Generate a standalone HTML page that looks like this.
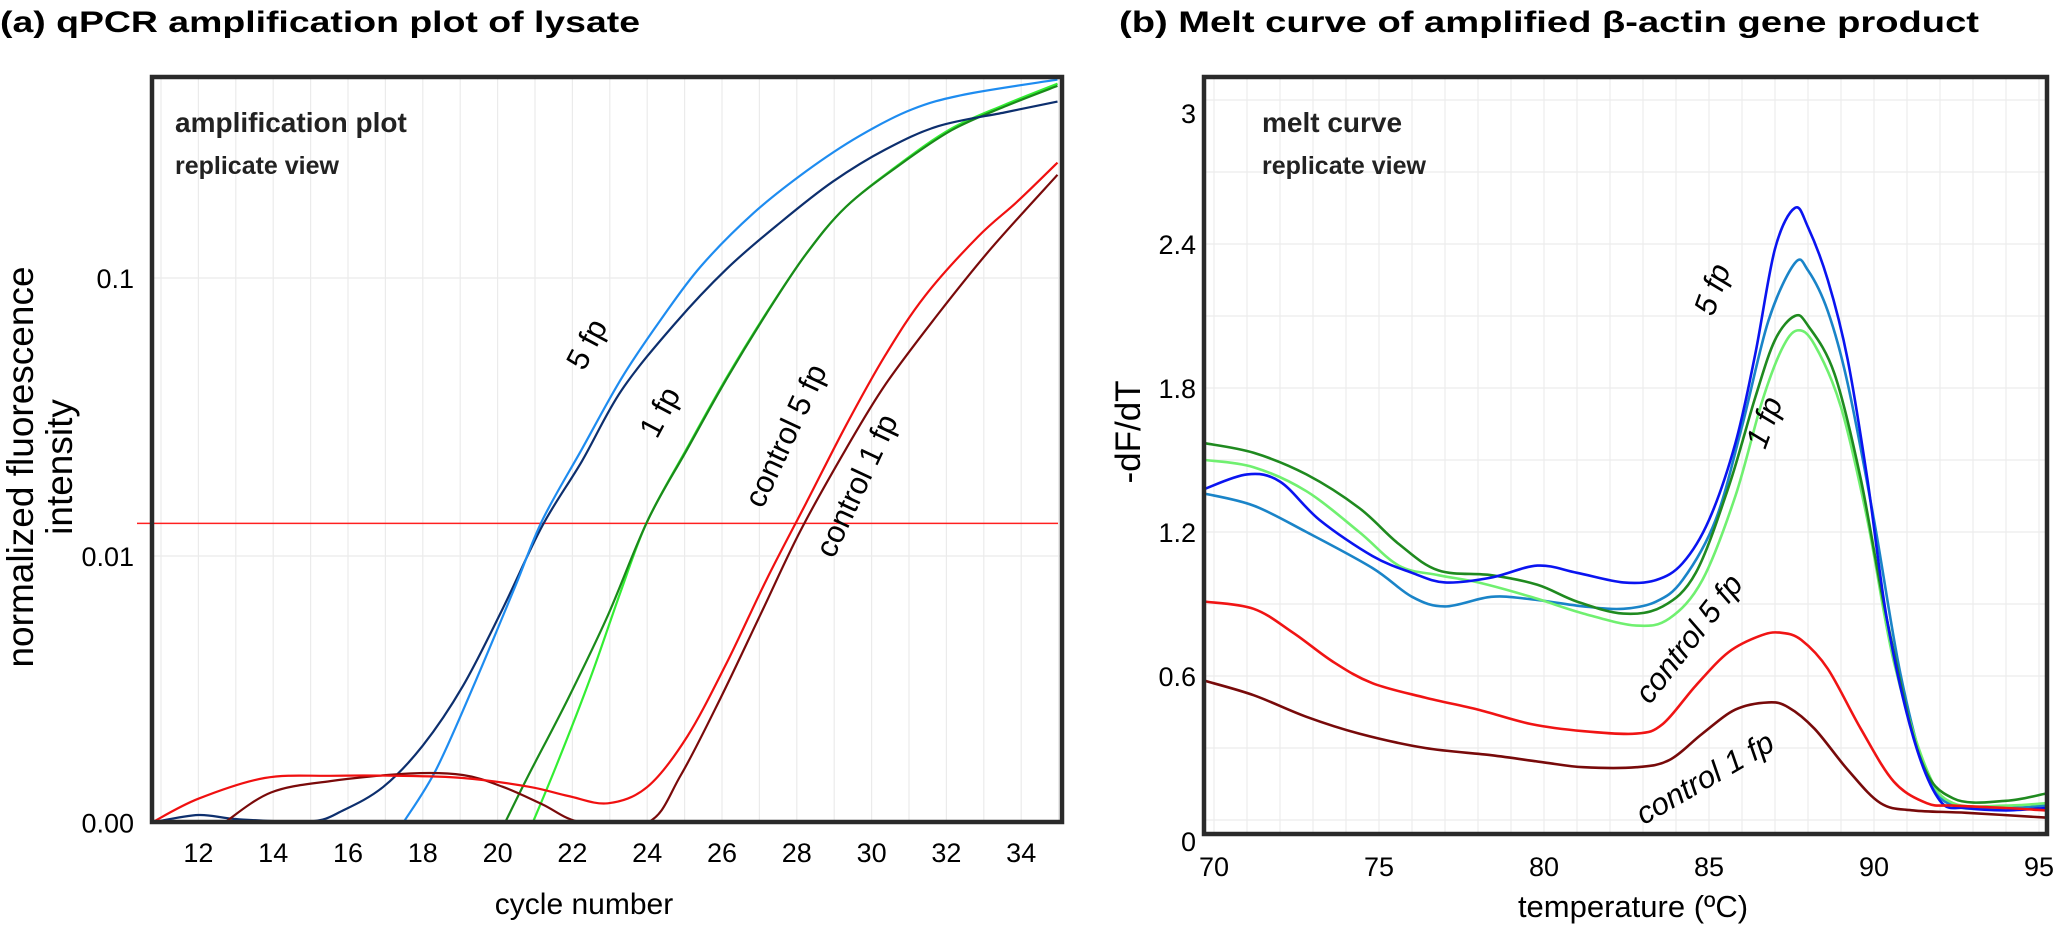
<!DOCTYPE html>
<html><head><meta charset="utf-8"><style>
html,body{margin:0;padding:0;background:#fff;}
svg{display:block;font-family:"Liberation Sans",Arial,sans-serif;}
</style></head><body>
<svg id="fig" width="2069" height="927" viewBox="0 0 2069 927" xmlns="http://www.w3.org/2000/svg">
<defs>
<clipPath id="clipA"><rect x="152" y="77" width="910" height="745"/></clipPath>
<clipPath id="clipB"><rect x="1204" y="77" width="843" height="757"/></clipPath>
</defs>
<text x="0" y="32" font-size="30" font-weight="bold" textLength="640" lengthAdjust="spacingAndGlyphs">(a) qPCR amplification plot of lysate</text>
<text x="1119" y="32" font-size="30" font-weight="bold" textLength="860" lengthAdjust="spacingAndGlyphs">(b)  Melt curve of amplified β-actin gene product</text>
<g id="gA"></g>
<g id="gB"></g>
</svg>
<script>
// ---- Panel A data (cycle, normalized fluorescence) ----
const ampTicksX = [12,14,16,18,20,22,24,26,28,30,32,34];
const ampTickLabelsY = ["0.1","0.01","0.00"];
const ampTickValuesY = [0.1,0.01,0.0011];
const threshold = 0.0131;
const lb5Cycles = [17.48,18.36,19.42,20.48,21.19,22.25,23.31,24.37,25.43,26.84,28.25,29.67,31.08,32.49,34.97];
const lb5Values = [0.0011,0.00171,0.00357,0.00783,0.0134,0.0242,0.0435,0.071,0.110,0.171,0.242,0.324,0.404,0.457,0.517];
const nv5Cycles = [10.76,12,13.06,15.0,15.89,16.95,18.0,19.07,20.13,21.19,22.25,23.31,24.72,26.13,27.55,28.96,30.37,31.79,33.55,34.97];
const nv5Values = [0.0011,0.00117,0.00113,0.00111,0.00122,0.00148,0.00208,0.0034,0.00644,0.0128,0.0219,0.0394,0.068,0.108,0.158,0.222,0.290,0.352,0.394,0.431];
const dg1Cycles = [20.2,20.83,21.89,22.95,24.01,25.07,26.13,27.19,28.25,29.31,30.73,32.14,33.56,34.97];
const dg1Values = [0.0011,0.00163,0.00308,0.00612,0.0134,0.0242,0.0435,0.0745,0.122,0.180,0.254,0.340,0.414,0.491];
const bg1Cycles = [20.94,21.6,22.5,23.3,24.01,25.07,26.13,27.19,28.25,29.31,30.73,32.14,33.56,34.97];
const bg1Values = [0.0011,0.0018,0.0037,0.0075,0.0134,0.0245,0.0440,0.0750,0.122,0.180,0.256,0.345,0.42,0.5];
const c5Cycles = [10.76,12,13.77,15.53,17.3,19.07,20.83,21.89,22.95,24.01,25.07,26.13,27.19,28.25,29.31,30.37,31.43,32.85,33.91,34.97];
const c5Values = [0.0011,0.00134,0.00159,0.00162,0.00162,0.00159,0.00148,0.00137,0.00129,0.00148,0.00224,0.00414,0.00822,0.0155,0.0294,0.0528,0.0863,0.141,0.189,0.260];
const c1Cycles = [12.7,13.94,15.53,17.65,19.07,20.13,21.19,22.25,24.01,24.9,25.96,27.02,28.08,29.31,30.37,31.79,33.2,34.97];
const c1Values = [0.0011,0.00141,0.00155,0.00165,0.00163,0.00148,0.00128,0.0011,0.0011,0.00163,0.00308,0.00612,0.0122,0.0242,0.0414,0.0745,0.128,0.235];

// ---- Panel B data (temperature, -dF/dT) ----
const meltTicksX = [70,75,80,85,90,95];
const meltTicksY = [0,0.6,1.2,1.8,2.4,3];
const meltTickLabelsY = ["0","0.6","1.2","1.8","2.4","3"];
const b5Temps = [69.72,71,72,73.2,74.8,76,77,78.4,79.8,81,82.4,83.4,84.2,85,85.8,86.4,87,87.6,88,88.6,89.2,89.8,90.4,91.2,92,92.8,94,95.2];
const b5Values = [1.38,1.44,1.41,1.25,1.10,1.03,0.99,1.01,1.06,1.03,0.99,1.00,1.07,1.25,1.57,1.94,2.38,2.55,2.47,2.25,1.92,1.42,0.83,0.34,0.08,0.05,0.04,0.05];
const lb5mTemps = [69.72,71.2,72.8,74.8,76,77,78.4,79.6,81.2,82.4,83.4,84.2,85.2,86,86.8,87.6,88,88.6,89.2,90,90.8,91.6,92.4,94,95.2];
const lb5mValues = [1.36,1.31,1.20,1.05,0.93,0.89,0.93,0.92,0.89,0.88,0.91,1.00,1.25,1.64,2.08,2.32,2.29,2.12,1.82,1.25,0.61,0.19,0.06,0.05,0.06];
const dg1mTemps = [69.72,71.2,72.8,74.4,75.6,76.8,78.4,79.8,81,82.4,83.6,84.6,85.6,86.4,87,87.6,88,88.8,89.6,90.4,91.4,92.4,94,95.2];
const dg1mValues = [1.57,1.53,1.44,1.30,1.15,1.04,1.02,0.98,0.91,0.86,0.89,1.03,1.39,1.76,2.00,2.10,2.06,1.86,1.42,0.83,0.26,0.09,0.08,0.11];
const lg1mTemps = [69.72,71.2,72.8,74.4,75.6,76.8,78,79.6,81.2,82.8,83.8,84.8,85.8,86.6,87.2,87.68,88.2,89,89.8,90.6,91.6,92.4,94,95.2];
const lg1mValues = [1.50,1.47,1.37,1.20,1.06,1.02,0.99,0.93,0.86,0.81,0.84,1.00,1.35,1.74,1.96,2.04,1.98,1.72,1.25,0.66,0.21,0.07,0.06,0.07];
const rc5Temps = [69.72,71.2,72.4,73.6,74.8,76.4,78,79.6,81.2,82.8,83.6,84.6,85.6,86.6,87.2,87.8,88.6,89.6,90.6,91.6,92.4,94,95.2];
const rc5Values = [0.91,0.88,0.78,0.66,0.57,0.51,0.46,0.40,0.37,0.36,0.40,0.56,0.70,0.77,0.78,0.75,0.63,0.38,0.16,0.07,0.06,0.05,0.04];
const rc1Temps = [69.72,71.2,72.8,74.4,76.4,78.4,80,81.2,82.8,83.8,84.8,85.8,86.8,87.4,88.2,89.2,90.2,91.2,92.8,95.2];
const rc1Values = [0.58,0.52,0.43,0.36,0.30,0.27,0.24,0.22,0.22,0.25,0.36,0.46,0.49,0.47,0.38,0.21,0.07,0.04,0.03,0.01];

const NS = "http://www.w3.org/2000/svg";
function mk(tag, attrs, parent){ const e=document.createElementNS(NS,tag); for(const k in attrs) e.setAttribute(k,attrs[k]); parent.appendChild(e); return e; }
function smooth(pts){
  let d = "M"+pts[0][0].toFixed(1)+","+pts[0][1].toFixed(1);
  for(let i=0;i<pts.length-1;i++){
    const p0=pts[Math.max(0,i-1)],p1=pts[i],p2=pts[i+1],p3=pts[Math.min(pts.length-1,i+2)];
    const c1x=p1[0]+(p2[0]-p0[0])/6,c1y=p1[1]+(p2[1]-p0[1])/6;
    const c2x=p2[0]-(p3[0]-p1[0])/6,c2y=p2[1]-(p3[1]-p1[1])/6;
    d+=" C"+c1x.toFixed(1)+","+c1y.toFixed(1)+" "+c2x.toFixed(1)+","+c2y.toFixed(1)+" "+p2[0].toFixed(1)+","+p2[1].toFixed(1);
  }
  return d;
}

// ---- Panel A ----
const gA = document.getElementById('gA');
const A = {l:152,r:1062,t:77,b:822};
const ax = c => 161 + (c-11)*37.4;
const ay = v => { const lv=Math.log10(Math.max(v,0.0011)); return 278 + (-1-lv)*278; };
for(let c=11;c<=35;c++){
  const g=mk('line',{x1:ax(c),x2:ax(c),y1:A.t,y2:A.b,stroke:'#ebebeb','stroke-width':1.2},gA);
  
  
}
[0.1,0.01].forEach(v=>{
  const g=mk('line',{x1:A.l,x2:A.r,y1:ay(v),y2:ay(v),stroke:'#ebebeb','stroke-width':1.2},gA);
  
  
});
const thr=mk('line',{x1:137,x2:1058,y1:ay(threshold),y2:ay(threshold),stroke:'#ff2020','stroke-width':1.5},gA);


const ampSeries = [
  ['bright-green-1fp',bg1Cycles,bg1Values,'#33ee33'],
  ['dark-green-1fp',dg1Cycles,dg1Values,'#1a8a1a'],
  ['navy-5fp',nv5Cycles,nv5Values,'#0d2f6e'],
  ['lightblue-5fp',lb5Cycles,lb5Values,'#1e8cf0'],
  ['darkred-control-1fp',c1Cycles,c1Values,'#7a0a0a'],
  ['red-control-5fp',c5Cycles,c5Values,'#f01010']
];
ampSeries.forEach(s=>{
  const pts=s[1].map((c,i)=>[ax(c),ay(s[2][i])]);
  const p=mk('path',{d:smooth(pts),fill:'none',stroke:s[3],'stroke-width':2.2,'clip-path':'url(#clipA)'},gA);
  
  
});
const fa=mk('rect',{x:A.l,y:A.t,width:A.r-A.l,height:A.b-A.t,fill:'none',stroke:'#2a2a2a','stroke-width':4.5},gA);


ampTicksX.forEach(c=>{
  const t=mk('text',{x:ax(c),y:862,'font-size':27,'text-anchor':'middle'},gA); t.textContent=c;
  
  
});
ampTickValuesY.forEach((v,i)=>{
  const t=mk('text',{x:134,y:ay(v)+10,'font-size':27,'text-anchor':'end'},gA); t.textContent=ampTickLabelsY[i];
  
  
});
const axt=mk('text',{x:584,y:914,'font-size':30,'text-anchor':'middle'},gA); axt.textContent='cycle number';


const yt1=mk('text',{x:0,y:0,'font-size':37,'text-anchor':'middle',transform:'translate(33,467) rotate(-90)'},gA); yt1.textContent='normalized fluorescence';


const yt2=mk('text',{x:0,y:0,'font-size':37,'text-anchor':'middle',transform:'translate(72,467) rotate(-90)'},gA); yt2.textContent='intensity';


const at1=mk('text',{x:175,y:132,'font-size':28,'font-weight':'bold',fill:'#222'},gA); at1.textContent='amplification plot';


const at2=mk('text',{x:175,y:174,'font-size':25,'font-weight':'bold',fill:'#222'},gA); at2.textContent='replicate view';


[['5 fp',596,349,-62],['1 fp',669,417,-62],['control 5 fp',795,440,-65],['control 1 fp',866,490,-65]].forEach(a=>{
  const t=mk('text',{x:0,y:0,'font-size':31,'text-anchor':'middle',transform:`translate(${a[1]},${a[2]}) rotate(${a[3]})`},gA); t.textContent=a[0];
  
  
});

// ---- Panel B ----
const gB = document.getElementById('gB');
const B = {l:1204,r:2047,t:77,b:834};
const bx = T => 1214 + (T-70)*33;
const by = v => 820 - v*240;
for(let T=70;T<=95;T++){
  const g=mk('line',{x1:bx(T),x2:bx(T),y1:B.t,y2:B.b,stroke:'#ececec','stroke-width':1.2},gB);
  
  
}
for(let v=0;v<=3.05;v+=0.3){
  const g=mk('line',{x1:B.l,x2:B.r,y1:by(v),y2:by(v),stroke:'#ececec','stroke-width':1.2},gB);
  
  
}
const meltSeries = [
  ['lightblue-5fp',lb5mTemps,lb5mValues,'#1a84c8'],
  ['light-green-1fp',lg1mTemps,lg1mValues,'#70f070'],
  ['dark-green-1fp',dg1mTemps,dg1mValues,'#1f8a1f'],
  ['blue-5fp',b5Temps,b5Values,'#0a14f0'],
  ['red-control-5fp',rc5Temps,rc5Values,'#f01414'],
  ['darkred-control-1fp',rc1Temps,rc1Values,'#780a0a']
];
meltSeries.forEach(s=>{
  const pts=s[1].map((T,i)=>[bx(T),by(s[2][i])]);
  const p=mk('path',{d:smooth(pts),fill:'none',stroke:s[3],'stroke-width':2.6,'clip-path':'url(#clipB)'},gB);
  
  
});
const fb=mk('rect',{x:B.l,y:B.t,width:B.r-B.l,height:B.b-B.t,fill:'none',stroke:'#2a2a2a','stroke-width':4.5},gB);


meltTicksX.forEach(T=>{
  const t=mk('text',{x:bx(T),y:876,'font-size':27,'text-anchor':'middle'},gB); t.textContent=T;
  
  
});
meltTicksY.forEach((v,i)=>{
  let y=by(v)+10; if(v===0) y=851; if(v===3) y=123;
  const t=mk('text',{x:1196,y:y,'font-size':27,'text-anchor':'end'},gB); t.textContent=meltTickLabelsY[i];
  
  
});
const bxt=mk('text',{x:1633,y:917,'font-size':31,'text-anchor':'middle'},gB); bxt.textContent='temperature (ºC)';


const byt=mk('text',{x:0,y:0,'font-size':35,'text-anchor':'middle',transform:'translate(1140,432) rotate(-90)'},gB); byt.textContent='-dF/dT';


const bt1=mk('text',{x:1262,y:132,'font-size':28,'font-weight':'bold',fill:'#222'},gB); bt1.textContent='melt curve';


const bt2=mk('text',{x:1262,y:174,'font-size':25,'font-weight':'bold',fill:'#222'},gB); bt2.textContent='replicate view';


[['5 fp',1722,293,-70],['1 fp',1774,426,-70],['control 5 fp',1697,645,-52],['control 1 fp',1710,787,-30]].forEach(a=>{
  const t=mk('text',{x:0,y:0,'font-size':31,'text-anchor':'middle','font-style':'italic',transform:`translate(${a[1]},${a[2]}) rotate(${a[3]})`},gB); t.textContent=a[0];
  
  
});
</script>
</body></html>
